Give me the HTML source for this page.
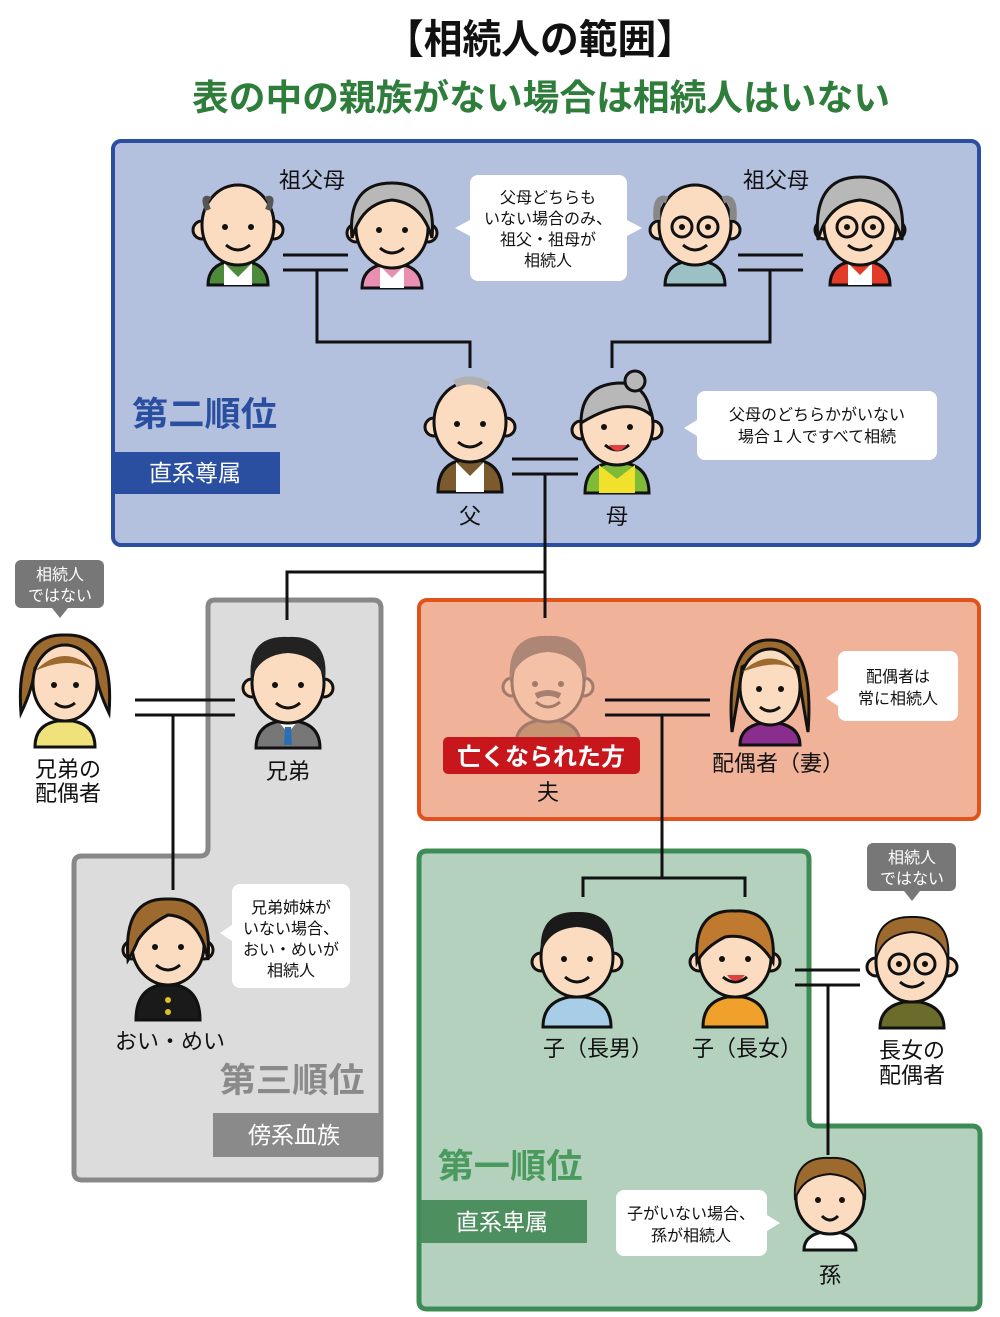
<!DOCTYPE html>
<html><head><meta charset="utf-8"><style>
html,body{margin:0;padding:0;background:#fff;}
svg{display:block;font-family:"Liberation Sans","Noto Sans CJK JP",sans-serif;}
</style></head><body>
<svg width="1000" height="1317" viewBox="0 0 1000 1317" xmlns="http://www.w3.org/2000/svg">
<defs>
<g id="face">
 <circle cx="-36" cy="5" r="9" fill="#fcdcc0" stroke="#111" stroke-width="3"/>
 <circle cx="36" cy="5" r="9" fill="#fcdcc0" stroke="#111" stroke-width="3"/>
 <ellipse cx="0" cy="0" rx="36" ry="40" fill="#fcdcc0" stroke="#111" stroke-width="3"/>
 <circle cx="-13" cy="2" r="3" fill="#111"/><circle cx="13" cy="2" r="3" fill="#111"/>
 <path d="M-12,20 Q0,30 12,20" fill="none" stroke="#111" stroke-width="3"/>
</g>
</defs>
<!-- titles -->
<text x="540" y="53" font-size="40" font-weight="bold" text-anchor="middle" fill="#111" textLength="310" lengthAdjust="spacingAndGlyphs">【相続人の範囲】</text>
<text x="541" y="110" font-size="36" font-weight="bold" text-anchor="middle" fill="#2e7d3a" textLength="698" lengthAdjust="spacingAndGlyphs">表の中の親族がない場合は相続人はいない</text>

<!-- boxes -->
<rect x="113" y="141" width="866" height="404" rx="8" fill="#b3c0de" stroke="#2a4fa0" stroke-width="4"/>
<rect x="419" y="600" width="560" height="219" rx="8" fill="#f0b39a" stroke="#e0541c" stroke-width="4"/>
<path d="M215,600 H373 Q381,600 381,608 V1172 Q381,1180 373,1180 H82 Q74,1180 74,1172 V864 Q74,856 82,856 H200 Q208,856 208,848 V607 Q208,600 215,600 Z" fill="#dcdcdc" stroke="#888" stroke-width="5"/>
<path d="M427,851 H801 Q809,851 809,859 V1118 Q809,1126 817,1126 H972 Q980,1126 980,1134 V1301 Q980,1309 972,1309 H427 Q419,1309 419,1301 V859 Q419,851 427,851 Z" fill="#b3d1bd" stroke="#3d8c55" stroke-width="5"/>

<!-- rank labels -->
<text x="132" y="426" font-size="34" font-weight="bold" fill="#2a4fa0" textLength="145" lengthAdjust="spacingAndGlyphs">第二順位</text>
<rect x="115" y="452" width="165" height="42" fill="#2a4fa0"/>
<text x="195" y="481" font-size="23" fill="#fff" text-anchor="middle">直系尊属</text>
<text x="292" y="1092" font-size="34" font-weight="bold" fill="#8a8a8a" text-anchor="middle" textLength="145" lengthAdjust="spacingAndGlyphs">第三順位</text>
<rect x="213" y="1113" width="166" height="44" fill="#8a8a8a"/>
<text x="294" y="1143" font-size="23" fill="#fff" text-anchor="middle">傍系血族</text>
<text x="510" y="1178" font-size="34" font-weight="bold" fill="#4a9a5e" text-anchor="middle" textLength="145" lengthAdjust="spacingAndGlyphs">第一順位</text>
<rect x="421" y="1200" width="166" height="43" fill="#4d8f5f"/>
<text x="502" y="1230" font-size="23" fill="#fff" text-anchor="middle">直系卑属</text>

<!-- lines -->
<g stroke="#111" stroke-width="3" fill="none">
 <path d="M283,255 H348 M283,270 H348 M317,270 V342 H470 V368"/>
 <path d="M738,255 H803 M738,270 H803 M770,270 V342 H612 V368"/>
 <path d="M512,459 H578 M512,474 H578 M545,474 V618 M545,572 H287 V620"/>
 <path d="M135,700 H235 M135,715 H235 M173,715 V890"/>
 <path d="M605,700 H710 M605,715 H710 M662,715 V878 M583,897 V878 H745 V897"/>
 <path d="M795,970 H860 M795,985 H860 M828,985 V1155"/>
</g>

<!-- grandpa1 -->
<g transform="translate(238,225)"><path d="M-30,60 Q-30,40 -8,36 H8 Q30,40 30,60 Z" fill="#4d8a3c" stroke="#111" stroke-width="3"/><path d="M-14,38 L0,52 L14,38 V60 H-14 Z" fill="#fff"/><use href="#face"/><path d="M-30,-15 Q-36,-30 -28,-25 M30,-15 Q36,-30 28,-25" stroke="#555" stroke-width="6" fill="none"/></g>
<!-- grandma1 -->
<g transform="translate(392,228)"><path d="M-30,60 Q-30,40 -8,36 H8 Q30,40 30,60 Z" fill="#e98fb1" stroke="#111" stroke-width="3"/><path d="M-12,38 L0,50 L12,38 V60 H-12 Z" fill="#fff"/><use href="#face"/><path d="M-40,10 Q-45,-45 0,-45 Q45,-45 40,10 Q30,-25 0,-28 Q-30,-25 -40,10 Z" fill="#b8b8b8" stroke="#111" stroke-width="3"/></g>
<!-- grandpa2 -->
<g transform="translate(695,225)"><path d="M-30,60 Q-30,40 -8,36 H8 Q30,40 30,60 Z" fill="#9cc1c4" stroke="#111" stroke-width="3"/><use href="#face"/><circle cx="-13" cy="2" r="10" fill="none" stroke="#111" stroke-width="3"/><circle cx="13" cy="2" r="10" fill="none" stroke="#111" stroke-width="3"/><path d="M-38,-5 Q-40,-30 -28,-25 M38,-5 Q40,-30 28,-25" stroke="#888" stroke-width="7" fill="none"/></g>
<!-- grandma2 -->
<g transform="translate(860,225)"><path d="M-30,60 Q-30,40 -8,36 H8 Q30,40 30,60 Z" fill="#e33b2a" stroke="#111" stroke-width="3"/><path d="M-12,38 L0,50 L12,38 V60 H-12 Z" fill="#fff"/><use href="#face"/><circle cx="-13" cy="2" r="10" fill="none" stroke="#111" stroke-width="3"/><circle cx="13" cy="2" r="10" fill="none" stroke="#111" stroke-width="3"/><path d="M-42,15 Q-48,-48 0,-48 Q48,-48 42,15 Q32,-22 0,-25 Q-32,-22 -42,15 Z" fill="#b8b8b8" stroke="#111" stroke-width="3"/></g>
<!-- father -->
<g transform="translate(470,422)"><path d="M-32,70 Q-32,42 -8,38 H8 Q32,42 32,70 Z" fill="#7b5a2d" stroke="#111" stroke-width="3"/><path d="M-14,40 L0,54 L14,40 V70 H-14 Z" fill="#fff"/><use href="#face"/><path d="M-15,-38 Q0,-46 18,-36" stroke="#b0b0b0" stroke-width="8" fill="none"/></g>
<!-- mother -->
<g transform="translate(617,425)"><path d="M-32,68 Q-32,42 -8,38 H8 Q32,42 32,68 Z" fill="#7dbb38" stroke="#111" stroke-width="3"/><path d="M-18,40 L0,54 L18,40 V68 H-18 Z" fill="#f2e12c"/><use href="#face"/><path d="M-36,-2 Q-36,-42 5,-42 Q30,-40 34,-10 Q10,-30 -36,-2 Z" fill="#b8b8b8" stroke="#111" stroke-width="3"/><circle cx="18" cy="-44" r="10" fill="#b8b8b8" stroke="#111" stroke-width="3"/><path d="M-8,20 Q0,32 10,20 Z" fill="#e04040"/></g>
<!-- deceased -->
<g transform="translate(548,682)" opacity="0.35"><path d="M-32,62 Q-32,42 -8,38 H8 Q32,42 32,62 Z" fill="#7b5a2d" stroke="#111" stroke-width="3"/><use href="#face"/><path d="M-38,0 Q-42,-48 0,-46 Q42,-48 38,0 Q30,-28 0,-30 Q-30,-28 -38,0 Z" fill="#333"/><path d="M-12,14 Q0,8 12,14" stroke="#222" stroke-width="6"/></g>
<rect x="443" y="737" width="197" height="37" rx="5" fill="#c8161d"/>
<text x="541" y="765" font-size="24" font-weight="bold" fill="#fff" text-anchor="middle">亡くなられた方</text>
<!-- wife -->
<g transform="translate(770,687)"><path d="M-30,58 Q-30,40 -8,36 H8 Q30,40 30,58 Z" fill="#8a2e8e" stroke="#111" stroke-width="3"/><path d="M-38,45 Q-45,-48 0,-47 Q45,-48 38,45 Q30,0 28,-20 Q0,-38 -28,-20 Q-30,0 -38,45 Z" fill="#9c6a2e" stroke="#111" stroke-width="3"/><ellipse cx="0" cy="0" rx="30" ry="38" fill="#fcdcc0" stroke="#111" stroke-width="3"/><circle cx="-11" cy="2" r="3" fill="#111"/><circle cx="11" cy="2" r="3" fill="#111"/><path d="M-10,20 Q0,28 10,20" fill="none" stroke="#111" stroke-width="3"/><path d="M-28,-15 Q0,-42 28,-15 Q10,-30 -28,-15 Z" fill="#9c6a2e"/></g>
<!-- brother's spouse -->
<g transform="translate(65,683)"><path d="M-30,64 Q-30,42 -8,38 H8 Q30,42 30,64 Z" fill="#f0e27a" stroke="#111" stroke-width="3"/><path d="M-44,30 Q-50,-50 0,-48 Q50,-50 44,30 Q32,5 30,-15 Q0,-35 -30,-15 Q-32,5 -44,30 Z" fill="#9c6a2e" stroke="#111" stroke-width="3"/><ellipse cx="0" cy="0" rx="32" ry="38" fill="#fcdcc0" stroke="#111" stroke-width="3"/><circle cx="-11" cy="2" r="3" fill="#111"/><circle cx="11" cy="2" r="3" fill="#111"/><path d="M-10,20 Q0,28 10,20" fill="none" stroke="#111" stroke-width="3"/><path d="M-30,-12 Q0,-42 30,-12 Q5,-28 -30,-12 Z" fill="#9c6a2e"/></g>
<!-- brother -->
<g transform="translate(288,683)"><path d="M-32,65 Q-32,42 -8,38 H8 Q32,42 32,65 Z" fill="#777" stroke="#111" stroke-width="3"/><path d="M-10,38 L0,50 L10,38 Z" fill="#fff"/><path d="M-3,44 H3 L4,62 H-4 Z" fill="#2a6fb5"/><use href="#face"/><path d="M-37,-2 Q-42,-48 0,-46 Q42,-48 37,-2 Q30,-28 0,-30 Q-30,-28 -37,-2 Z" fill="#222"/></g>
<!-- nephew -->
<g transform="translate(168,945)"><path d="M-32,75 Q-32,45 -8,40 H8 Q32,45 32,75 Z" fill="#1a1a1a" stroke="#111" stroke-width="3"/><circle cx="0" cy="55" r="3" fill="#e0c020"/><circle cx="0" cy="67" r="3" fill="#e0c020"/><use href="#face"/><path d="M-40,15 Q-45,-48 0,-46 Q45,-48 40,15 Q32,-28 0,-30 Q-20,-20 -30,-5 Q-34,5 -40,15 Z" fill="#9c6a2e" stroke="#111" stroke-width="3"/></g>
<!-- son -->
<g transform="translate(577,957)"><path d="M-34,70 Q-34,45 -8,40 H8 Q34,45 34,70 Z" fill="#a8cde6" stroke="#111" stroke-width="3"/><use href="#face"/><path d="M-36,-2 Q-40,-46 0,-45 Q40,-46 36,-2 Q30,-28 0,-30 Q-30,-28 -36,-2 Z" fill="#1a1a1a"/></g>
<!-- daughter -->
<g transform="translate(735,957)"><path d="M-32,70 Q-32,45 -8,40 H8 Q32,45 32,70 Z" fill="#f0a12c" stroke="#111" stroke-width="3"/><use href="#face"/><path d="M-38,5 Q-42,-48 0,-46 Q42,-48 38,5 Q20,-25 -10,-20 Q-30,-10 -38,5 Z" fill="#c07a30" stroke="#111" stroke-width="3"/><path d="M-8,18 Q0,30 10,18 Z" fill="#e04040"/></g>
<!-- daughter's spouse -->
<g transform="translate(912,962)"><path d="M-32,66 Q-32,45 -8,40 H8 Q32,45 32,66 Z" fill="#6b6b2b" stroke="#111" stroke-width="3"/><use href="#face"/><circle cx="-13" cy="2" r="10" fill="none" stroke="#111" stroke-width="3"/><circle cx="13" cy="2" r="10" fill="none" stroke="#111" stroke-width="3"/><path d="M-36,-2 Q-40,-46 0,-45 Q40,-46 36,-2 Q30,-28 0,-30 Q-30,-28 -36,-2 Z" fill="#9c6a2e" stroke="#111" stroke-width="2"/></g>
<!-- grandchild -->
<g transform="translate(830,1198)"><path d="M-26,52 Q-26,38 -8,34 H8 Q26,38 26,52 Z" fill="#fff" stroke="#111" stroke-width="3"/><ellipse cx="0" cy="0" rx="34" ry="36" fill="#fcdcc0" stroke="#111" stroke-width="3"/><circle cx="-12" cy="2" r="3" fill="#111"/><circle cx="12" cy="2" r="3" fill="#111"/><path d="M-8,18 Q0,26 8,18" fill="none" stroke="#111" stroke-width="3"/><path d="M-35,2 Q-38,-42 0,-40 Q38,-42 35,2 Q28,-22 0,-24 Q-28,-22 -35,2 Z" fill="#9c6a2e" stroke="#111" stroke-width="2"/></g>

<!-- name labels -->
<g font-size="22" fill="#111" text-anchor="middle">
 <text x="312" y="188">祖父母</text><text x="776" y="188">祖父母</text>
 <text x="470" y="524">父</text><text x="617" y="524">母</text>
 <text x="548" y="800">夫</text><text x="778" y="771">配偶者（妻）</text>
 <text x="68" y="777">兄弟の</text><text x="68" y="801">配偶者</text>
 <text x="288" y="779">兄弟</text><text x="170" y="1049">おい・めい</text>
 <text x="598" y="1056">子（長男）</text><text x="747" y="1056">子（長女）</text>
 <text x="912" y="1058">長女の</text><text x="912" y="1083">配偶者</text>
 <text x="830" y="1283">孫</text>
</g>

<!-- bubbles -->
<g fill="#fff">
 <rect x="470" y="175" width="157" height="106" rx="8"/><path d="M470,220 L455,228 L470,236 Z M627,220 L642,228 L627,236 Z"/>
 <rect x="697" y="391" width="240" height="69" rx="8"/><path d="M697,420 L684,428 L697,436 Z"/>
 <rect x="838" y="651" width="120" height="70" rx="8"/><path d="M838,690 L826,698 L838,706 Z"/>
 <rect x="232" y="884" width="118" height="104" rx="8"/><path d="M232,925 L220,933 L232,941 Z"/>
 <rect x="616" y="1190" width="151" height="66" rx="8"/><path d="M767,1215 L780,1223 L767,1231 Z"/>
</g>
<g fill="#777">
 <rect x="15" y="560" width="89" height="48" rx="6"/><path d="M52,608 L60,618 L68,608 Z"/>
 <rect x="867" y="843" width="89" height="48" rx="6"/><path d="M904,891 L912,901 L920,891 Z"/>
</g>
<g font-size="16" fill="#111" text-anchor="middle">
 <text x="548" y="203">父母どちらも</text><text x="548" y="224">いない場合のみ、</text><text x="548" y="245">祖父・祖母が</text><text x="548" y="266">相続人</text>
 <text x="817" y="420">父母のどちらかがいない</text><text x="817" y="442">場合１人ですべて相続</text>
 <text x="898" y="682">配偶者は</text><text x="898" y="704">常に相続人</text>
 <text x="291" y="913">兄弟姉妹が</text><text x="291" y="934">いない場合、</text><text x="291" y="955">おい・めいが</text><text x="291" y="976">相続人</text>
 <text x="691" y="1219">子がいない場合、</text><text x="691" y="1241">孫が相続人</text>
</g>
<g font-size="16" fill="#fff" text-anchor="middle">
 <text x="60" y="580">相続人</text><text x="60" y="601">ではない</text>
 <text x="912" y="863">相続人</text><text x="912" y="884">ではない</text>
</g>
</svg>
</body></html>
